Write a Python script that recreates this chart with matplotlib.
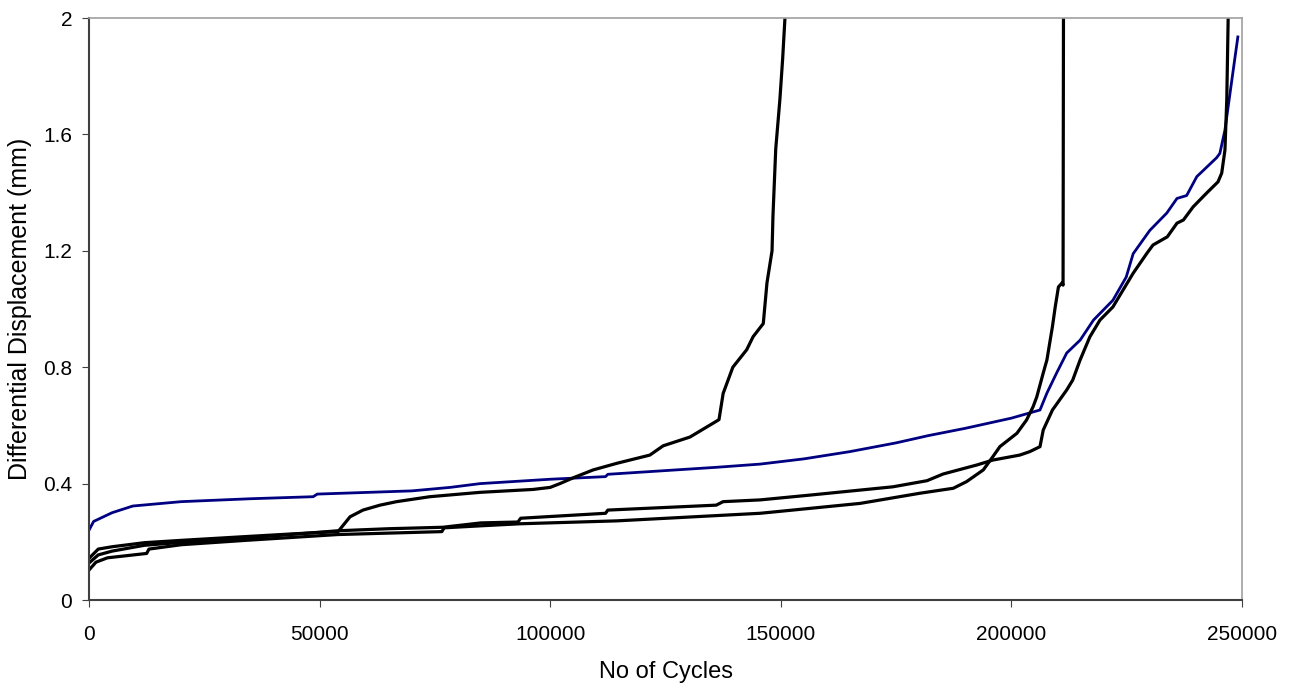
import matplotlib.pyplot as plt

# blue series
blue_x = [0, 1000, 5000, 9500, 20000, 35000, 48600, 49500, 70000, 78300, 84800, 100000,
          112000, 112500, 136000, 145500, 155000, 165000, 175000, 182000, 190000, 200000,
          206200, 207700, 209800, 212000, 214900, 217800, 222000, 224900, 226400, 230000,
          233700, 235900, 238000, 240200, 244500, 245200, 246300, 248000, 249100]
blue_y = [0.24, 0.27, 0.30, 0.323, 0.338, 0.348, 0.355, 0.364, 0.375, 0.387, 0.40, 0.415,
          0.424, 0.432, 0.456, 0.467, 0.485, 0.51, 0.54, 0.565, 0.59, 0.625,
          0.653, 0.711, 0.78, 0.849, 0.893, 0.962, 1.03, 1.11, 1.19, 1.27,
          1.33, 1.38, 1.39, 1.455, 1.52, 1.535, 1.615, 1.81, 1.935]

# black series, failure near 150000
a_x = [0, 2000, 5000, 12000, 20000, 34000, 45000, 54000, 56600, 59400, 63100, 66700,
       73900, 84800, 96300, 100000, 102100, 105000, 109300, 114500, 121600, 124500,
       130300, 136100, 136600, 137500, 139600, 142600, 144000, 146200, 147000, 148100,
       148300, 148900, 149800, 150400, 150900, 151500]
a_y = [0.143, 0.175, 0.183, 0.197, 0.205, 0.218, 0.228, 0.235, 0.286, 0.309, 0.326, 0.338,
       0.355, 0.37, 0.38, 0.387, 0.40, 0.42, 0.447, 0.47, 0.498, 0.53,
       0.56, 0.615, 0.62, 0.71, 0.80, 0.86, 0.905, 0.95, 1.09, 1.20,
       1.32, 1.55, 1.72, 1.86, 2.0, 2.1]

# black series, failure near 211000
c_x = [0, 1500, 4000, 12500, 13000, 20000, 34000, 54000, 76500, 77000, 85000, 93500,
       114500, 130000, 145500, 150000, 167200, 180200, 187400, 190300, 193900, 196000,
       197500, 201200, 203300, 204700, 205500, 206900, 207700, 208900, 209500, 210200,
       211000, 211200, 211300]
c_y = [0.103, 0.13, 0.145, 0.16, 0.175, 0.19, 0.205, 0.225, 0.235, 0.248, 0.255, 0.262,
       0.272, 0.285, 0.298, 0.305, 0.332, 0.367, 0.384, 0.407, 0.447, 0.493,
       0.527, 0.573, 0.619, 0.664, 0.698, 0.78, 0.825, 0.94, 1.007, 1.076,
       1.09, 1.082, 2.1]

# black series, failure near 247000
d_x = [0, 2000, 5000, 12000, 20000, 34000, 54000, 65000, 76700, 85000, 93000, 93600,
       112000, 112500, 136000, 137500, 145500, 156000, 174300, 181700, 185200, 192500,
       196000, 201800, 204000, 206200, 206900, 208900, 212000, 213300, 214900, 217000,
       219200, 222000, 224200, 226400, 229400, 230700, 233800, 235900, 237300, 239400,
       242300, 244800, 245600, 246300, 246700, 247000, 247200]
d_y = [0.127, 0.155, 0.168, 0.188, 0.198, 0.213, 0.238, 0.245, 0.25, 0.265, 0.268, 0.281,
       0.298, 0.309, 0.326, 0.338, 0.344, 0.36, 0.389, 0.41, 0.433, 0.464,
       0.481, 0.498, 0.51, 0.527, 0.584, 0.653, 0.722, 0.756, 0.825, 0.904,
       0.962, 1.007, 1.065, 1.123, 1.192, 1.22, 1.248, 1.295, 1.306, 1.351,
       1.398, 1.437, 1.467, 1.546, 1.72, 2.0, 2.1]

x_ticks = [0, 50000, 100000, 150000, 200000, 250000]
y_ticks = [0, 0.4, 0.8, 1.2, 1.6, 2]
y_tick_labels = ['0', '0.4', '0.8', '1.2', '1.6', '2']

plt.rcParams['font.family'] = ['Liberation Sans', 'DejaVu Sans']

fig = plt.figure(figsize=(12.92, 6.88), dpi=100)
ax = fig.add_axes([0.0689, 0.1279, 0.8924, 0.8459])

ax.plot(blue_x, blue_y, color='#000080', lw=2.0)
ax.plot(a_x, a_y, color='black', lw=2.3)
ax.plot(c_x, c_y, color='black', lw=2.3)
ax.plot(d_x, d_y, color='black', lw=2.3)

ax.set_xlim(0, 250000)
ax.set_ylim(0, 2)
ax.set_xticks(x_ticks)
ax.set_xticklabels([str(t) for t in x_ticks])
ax.set_yticks(y_ticks)
ax.set_yticklabels(y_tick_labels)

ax.tick_params(axis='x', direction='out', length=5, pad=13, labelsize=15, color='#404040')
ax.tick_params(axis='y', direction='out', length=5, pad=7, labelsize=15, color='#404040')

for side in ['left', 'bottom']:
    ax.spines[side].set_color('#404040')
    ax.spines[side].set_linewidth(1.5)
for side in ['top', 'right']:
    ax.spines[side].set_color('#a0a0a0')
    ax.spines[side].set_linewidth(1.2)

ax.set_xlabel('No of Cycles', fontsize=17, labelpad=12)
ax.set_ylabel('Differential Displacement (mm)', fontsize=18, labelpad=8)

fig.savefig('out.png', dpi=100)
